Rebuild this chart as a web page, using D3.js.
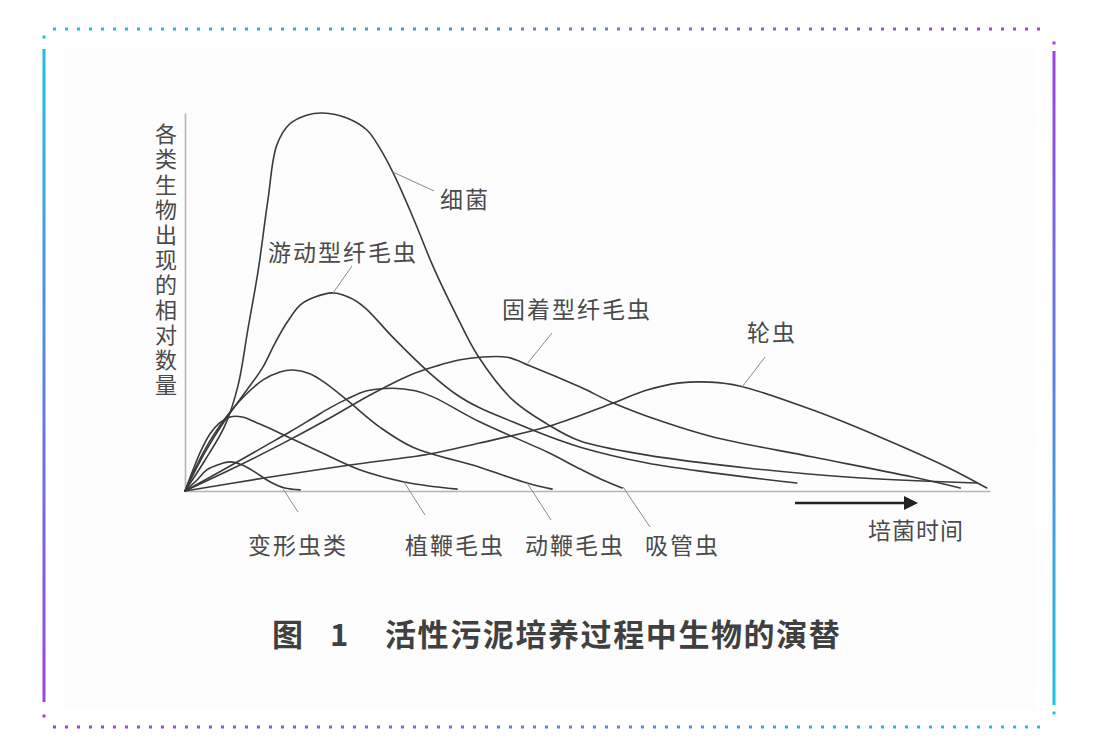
<!DOCTYPE html>
<html><head><meta charset="utf-8">
<script src="https://cdn.jsdelivr.net/npm/d3@7"></script>
<style>
html,body{margin:0;padding:0;background:#fff;}
svg{display:block;}
text{font-family:"Noto Sans CJK SC","Noto Sans",sans-serif;}
</style>
</head><body>
<svg id="chart" width="1105" height="747"></svg>
<script>
// ---------- DATA (time units 0-100, relative amount 0-100) ----------
const seriesNames = ["细菌","游动型纤毛虫","固着型纤毛虫","轮虫","变形虫类","植鞭毛虫","动鞭毛虫","吸管虫"];

const bacteria = [[0,0],[2.5,8.2],[5.0,17.5],[6.6,28.0],[7.8,42.6],[9.1,58.5],[10.3,77.0],[11.4,91.5],[13.0,97.1],[15.2,99.5],[17.1,100],[20.1,98.7],[22.6,95.5],[24.2,90.7],[25.8,84.4],[28.3,72.5],[30.8,59.5],[33.5,47.4],[36.4,35.7],[40.7,24.1],[45.0,17.7],[49.1,13.2],[57.4,9.5],[69.8,6.1],[82.2,3.7],[98.4,2.1]];

const freeCiliates = [[0,0],[2.5,10.3],[5.0,18.8],[7.5,26.2],[9.6,32.5],[11.2,39.2],[12.7,44.7],[14.3,49.2],[15.9,51.1],[18.4,52.4],[20.5,51.1],[22.4,48.4],[25.8,40.7],[30.4,31.2],[33.8,25.4],[36.6,22.0],[40.7,18.3],[45.0,14.6],[49.1,11.6],[57.4,7.4],[65.6,4.8],[76.0,2.1]];

const sessileCiliates = [[0,0],[5.6,5.6],[11.8,12.2],[18.0,19.3],[23.0,25.4],[28.0,30.7],[31.3,33.1],[34.2,34.7],[36.6,35.4],[40.0,35.4],[42.9,33.1],[49.1,27.5],[53.2,23.3],[59.4,18.3],[65.6,14.3],[78.0,9.0],[90.4,3.7],[96.3,0.8]];

const rotifers = [[0,0],[10.6,3.7],[20.5,6.9],[30.4,9.8],[36.6,12.7],[45.3,17.2],[53.2,23.3],[57.4,26.7],[61.5,28.6],[65.2,28.8],[68.9,27.8],[78.0,21.4],[86.3,14.3],[94.7,6.3],[99.6,0.8]];

const amoebae = [[0,0],[1.5,2.9],[2.7,5.6],[4.3,7.1],[5.6,7.7],[7.1,6.9],[8.7,5.0],[10.6,2.4],[12.4,0.8],[14.3,0.3]];

const phytoflagellates = [[0,0],[1.0,5.6],[1.9,10.3],[3.1,15.1],[4.3,18.0],[5.6,19.6],[7.1,19.6],[9.3,17.7],[11.8,15.3],[16.8,10.3],[21.7,5.6],[27.2,2.4],[33.8,0.5]];

const zooflagellates = [[0,0],[1.6,7.4],[3.4,14.3],[5.3,20.1],[7.5,25.4],[9.7,29.4],[11.8,31.5],[13.4,32.0],[15.5,31.0],[17.4,28.6],[20.1,24.1],[24.2,16.9],[28.3,11.6],[36.6,6.3],[42.5,2.1],[45.6,0.5]];

const suctorians = [[0,0],[5.6,6.6],[9.7,11.6],[13.0,15.6],[15.9,19.3],[18.0,22.0],[20.1,24.3],[22.6,26.5],[25.8,27.2],[28.6,26.5],[30.8,24.9],[36.6,18.3],[45.0,10.3],[49.1,5.8],[51.9,2.9],[54.3,0.8]];

const yTitle = "各类生物出现的相对数量";
const xTitle = "培菌时间";
const titleFig = ["图","1"];
const titleText = "活性污泥培养过程中生物的演替";

// leader anchors on curves (data units)
const labelAnchors = {
  "细菌":[25.8,84.4], "游动型纤毛虫":[18.4,52.4], "固着型纤毛虫":[42.6,33.9], "轮虫":[69.2,27.5],
  "变形虫类":[12.2,0.5], "植鞭毛虫":[27.2,2.4], "动鞭毛虫":[42.5,2.1], "吸管虫":[54.4,1.1]
};

// ---------- LAYOUT ----------
const svg = d3.select("#chart");
const x = d3.scaleLinear().domain([0,100]).range([185,990]);
const y = d3.scaleLinear().domain([0,100]).range([491,113]);

const allSeries = [bacteria,freeCiliates,sessileCiliates,rotifers,amoebae,phytoflagellates,zooflagellates,suctorians];

// label text positions (px): left x, center y, leader end
const labelLayout = {
  "细菌":{tx:440,ty:198,ex:434,ey:191},
  "游动型纤毛虫":{tx:268,ty:251,ex:352,ey:266},
  "固着型纤毛虫":{tx:502,ty:308,ex:552,ey:333},
  "轮虫":{tx:747,ty:331,ex:765,ey:357},
  "变形虫类":{tx:248,ty:544,ex:298,ey:512},
  "植鞭毛虫":{tx:405,ty:544,ex:425,ey:515},
  "动鞭毛虫":{tx:525,ty:544,ex:551,ey:520},
  "吸管虫":{tx:645,ty:544,ex:650,ey:527}
};

// ---------- FRAME ----------
const defs = svg.append("defs");
function grad(id,x1,y1,x2,y2,c1,c2){
  const g = defs.append("linearGradient").attr("id",id).attr("gradientUnits","userSpaceOnUse")
    .attr("x1",x1).attr("y1",y1).attr("x2",x2).attr("y2",y2);
  g.append("stop").attr("offset",0).attr("stop-color",c1);
  g.append("stop").attr("offset",1).attr("stop-color",c2);
}
const cyan="#1cc4dc", purple="#a03fe6";
grad("gTop",53,0,1045,0,cyan,purple);
grad("gBot",53,0,1045,0,purple,cyan);
grad("gLeft",0,40,0,710,cyan,purple);
grad("gRight",0,40,0,710,purple,cyan);

svg.append("rect").attr("x",64).attr("y",47).attr("width",972).attr("height",662).attr("fill","#fdfdfd");

svg.append("line").attr("x1",53).attr("x2",1046).attr("y1",29).attr("y2",29)
  .attr("stroke","url(#gTop)").attr("stroke-width",3).attr("stroke-dasharray","3 9");
svg.append("line").attr("x1",53).attr("x2",1046).attr("y1",727).attr("y2",727)
  .attr("stroke","url(#gBot)").attr("stroke-width",3).attr("stroke-dasharray","3 9");
svg.append("line").attr("x1",44).attr("x2",44).attr("y1",49).attr("y2",702)
  .attr("stroke","url(#gLeft)").attr("stroke-width",3);
svg.append("line").attr("x1",1054).attr("x2",1054).attr("y1",51).attr("y2",705)
  .attr("stroke","url(#gRight)").attr("stroke-width",3);
[[44,37,cyan],[44,716,purple],[1054,43,purple],[1054,713,cyan]].forEach(d=>{
  svg.append("rect").attr("x",d[0]-1.5).attr("y",d[1]-1.5).attr("width",3).attr("height",3).attr("fill",d[2]);
});

// ---------- AXES ----------
const axG = svg.append("g");
axG.append("g").attr("transform",`translate(0,${y(0)})`)
  .call(d3.axisBottom(x).tickValues([]).tickSizeOuter(0))
  .call(g=>g.select(".domain").attr("stroke","#b5b5b5").attr("stroke-width",1.6));
axG.append("g").attr("transform",`translate(${x(0)},0)`)
  .call(d3.axisLeft(y).tickValues([]).tickSizeOuter(0))
  .call(g=>g.select(".domain").attr("stroke","#b5b5b5").attr("stroke-width",1.6));

// ---------- CURVES ----------
const line = d3.line().x(d=>x(d[0])).y(d=>y(d[1])).curve(d3.curveCatmullRom.alpha(0.5));
svg.append("g").selectAll("path").data(allSeries).join("path")
  .attr("d",line).attr("fill","none").attr("stroke","#3a3a3a").attr("stroke-width",1.6)
  .attr("stroke-linejoin","round").attr("stroke-linecap","round");

// ---------- LABELS & LEADERS ----------
const lg = svg.append("g");
seriesNames.forEach(name=>{
  const a = labelAnchors[name], L = labelLayout[name];
  lg.append("line").attr("x1",x(a[0])).attr("y1",y(a[1])).attr("x2",L.ex).attr("y2",L.ey)
    .attr("stroke","#8a8a8a").attr("stroke-width",1);
  lg.append("text").attr("x",L.tx).attr("y",L.ty).attr("dominant-baseline","central")
    .attr("font-size",23).attr("letter-spacing",2).attr("fill","#4a4a4a").text(name);
});

// x axis title + arrow
lg.append("text").attr("x",868).attr("y",529).attr("dominant-baseline","central")
  .attr("font-size",23).attr("letter-spacing",1).attr("fill","#4a4a4a").text(xTitle);
lg.append("line").attr("x1",795).attr("x2",906).attr("y1",503).attr("y2",503)
  .attr("stroke","#222").attr("stroke-width",2.6);
lg.append("path").attr("d","M904,496 L918,503 L904,510 Z").attr("fill","#222");

// y axis title (vertical, single text)
lg.append("text").attr("x",166).attr("y",123)
  .style("writing-mode","vertical-rl").style("text-orientation","upright")
  .attr("font-size",22).attr("letter-spacing",3.1).attr("fill","#4a4a4a").text(yTitle);

// title
lg.append("text").attr("x",272).attr("y",632).attr("dominant-baseline","central")
  .attr("font-size",31).attr("font-weight",700).attr("fill","#404040").text(titleFig[0]);
lg.append("text").attr("x",330).attr("y",632).attr("dominant-baseline","central")
  .attr("font-size",31).attr("font-weight",700).attr("fill","#404040").text(titleFig[1]);
lg.append("text").attr("x",385).attr("y",632).attr("dominant-baseline","central")
  .attr("font-size",31).attr("font-weight",700).attr("letter-spacing",1.6).attr("fill","#404040").text(titleText);
</script>
</body></html>
